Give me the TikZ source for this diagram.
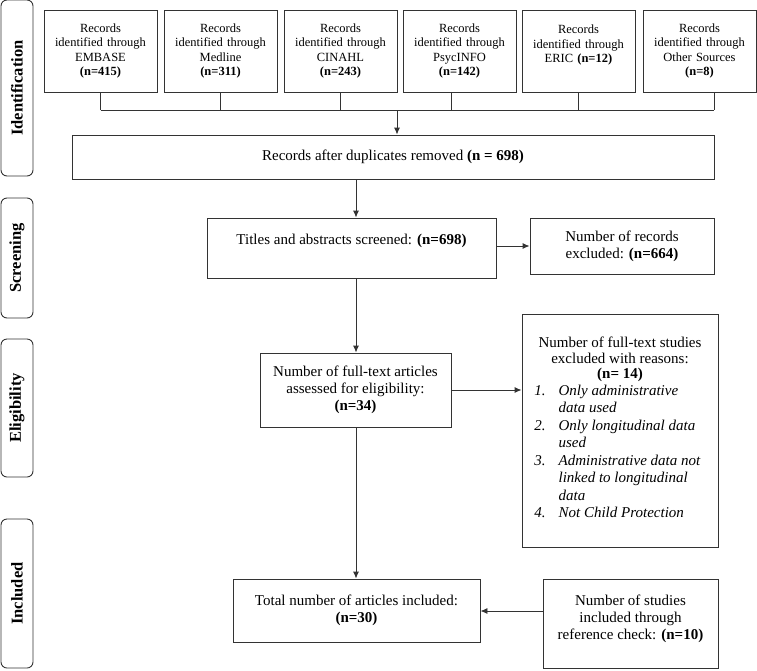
\documentclass[tikz,border=0pt]{standalone}
\usepackage{fontspec}
\setmainfont{Liberation Serif}
\usetikzlibrary{arrows.meta}
\usepackage{array}

\begin{document}
\begin{tikzpicture}[x=1pt,y=-1pt,line width=0.9pt,draw=black!80,
	box/.style={rectangle,draw=black!80,align=center,font=\fontsize{15}{17}\selectfont},
	srcbox/.style={rectangle,draw=black!80,align=center,minimum width=113pt,minimum height=82pt,text width=108pt,inner sep=0pt,font=\fontsize{12.5}{14.5}\selectfont},
	phase/.style={rectangle,rounded corners=6pt,draw=black!80,rotate=90,minimum height=32pt,font=\fontsize{16.5}{18}\selectfont\bfseries},
	arr/.style={-{Latex[length=7pt,width=6pt]}}]
	\useasboundingbox (0,0) rectangle (757,670);
	% phases
	\node (ident) at (17,88) [phase,minimum width=176pt] {Identification};
	\node (scr) at (17,258) [phase,minimum width=120pt] {Screening};
	\node (elig) at (17,408) [phase,minimum width=138pt] {Eligibility};
	\node (inc) at (17,593.5) [phase,minimum width=149pt] {Included};
	% sources
	\node (emb) at (100.5,51) [srcbox] {Records\\identified through\\EMBASE\\\textbf{(n=415)}};
	\node (med) at (220.5,51) [srcbox] {Records\\identified through\\Medline\\\textbf{(n=311)}};
	\node (cin) at (340.5,51) [srcbox] {Records\\identified through\\CINAHL\\\textbf{(n=243)}};
	\node (psy) at (459.5,51) [srcbox] {Records\\identified through\\PsycINFO\\\textbf{(n=142)}};
	\node (eric) at (578.5,51) [srcbox] {Records\\identified through\\ERIC \textbf{(n=12)}\\\mbox{}};
	\node (oth) at (699.5,51) [srcbox] {Records\\identified through\\Other Sources\\\textbf{(n=8)}};
	\coordinate (join) at (397,110);
	% flow
	\node (dedup) at (393,157) [box,minimum width=642pt,minimum height=44pt] {Records after duplicates removed \textbf{(n = 698)}};
	\node (screen) at (351.5,248) [box,minimum width=289pt,minimum height=60pt] {Titles and abstracts screened: \textbf{(n=698)}\\\mbox{}};
	\node (excl) at (622,246) [box,minimum width=184pt,minimum height=56pt] {Number of records\\excluded: \textbf{(n=664)}};
	\node (full) at (355.5,390) [box,minimum width=191pt,minimum height=74pt] {Number of full-text articles\\assessed for eligibility:\\\textbf{(n=34)}};
	\node (reasons) at (620,430.5) [box,minimum width=196pt,minimum height=233pt,font=\fontsize{15}{15.5}\selectfont] {Number of full-text studies\\excluded with reasons:\\\textbf{(n= 14)}\\[0pt]
		{\itshape\fontsize{15}{17.5}\selectfont\begin{tabular}{@{}l@{\hspace{13pt}}>{\raggedright\arraybackslash}p{147pt}@{}}
		1. & Only administrative data used\\
		2. & Only longitudinal data used\\
		3. & Administrative data not linked to longitudinal data\\
		4. & Not Child Protection
		\end{tabular}}\\[0pt]\mbox{}};
	\node (incl) at (356.5,610.5) [box,minimum width=247pt,minimum height=63pt] {Total number of articles included:\\\textbf{(n=30)}};
	\node (refchk) at (630.5,623.5) [box,minimum width=175pt,minimum height=89pt] {Number of studies\\included through\\reference check: \textbf{(n=10)}\\[-5pt]\mbox{}};
	% connectors
	\draw (emb.south) -- (emb.south |- join);
	\draw (med.south) -- (med.south |- join);
	\draw (cin.south) -- (cin.south |- join);
	\draw ([xshift=-8pt]psy.south) -- ([xshift=-8pt]psy.south |- join);
	\draw (eric.south) -- (eric.south |- join);
	\draw ([xshift=14.5pt]oth.south) -- ([xshift=14.5pt]oth.south |- join);
	\draw (emb.south |- join) -- ([xshift=14.5pt]oth.south |- join);
	\draw [arr] (join) -- (join |- dedup.north);
	\draw [arr] (dedup.south -| 356,0) -- (screen.north -| 356,0);
	\draw [arr] (screen.east |- excl.west) -- (excl.west);
	\draw [arr] (screen.south -| 356,0) -- (full.north -| 356,0);
	\draw [arr] (full.east) -- (full.east -| reasons.west);
	\draw [arr] (full.south -| 356,0) -- (incl.north -| 356,0);
	\draw [arr] (refchk.west |- 0,611) -- (incl.east |- 0,611);
\end{tikzpicture}
\end{document}
